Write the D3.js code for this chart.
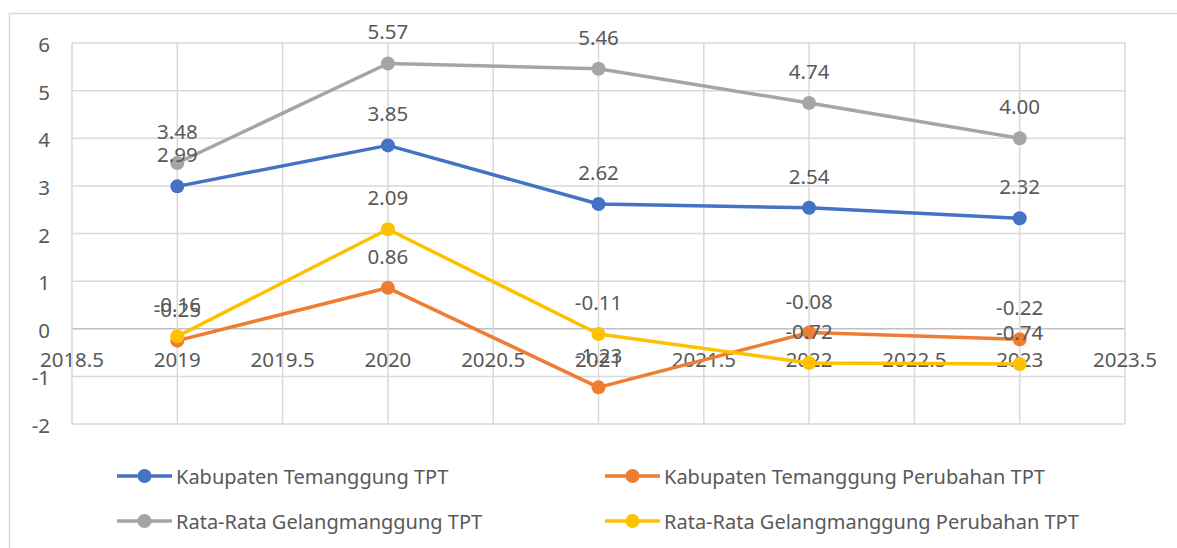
<!DOCTYPE html>
<html>
<head>
<meta charset="utf-8">
<script src="https://cdn.jsdelivr.net/npm/d3@7"></script>
<style>
  html, body { margin: 0; padding: 0; background: #fff; }
  svg { display: block; }
  text { font-family: "Noto Sans", "Open Sans", sans-serif; fill: #595959; }
</style>
</head>
<body>
<svg id="chart" width="1177" height="548"></svg>
<script>
const years = [2019, 2020, 2021, 2022, 2023];
const kabTPT = [2.99, 3.85, 2.62, 2.54, 2.32];
const kabPerubahan = [-0.25, 0.86, -1.23, -0.08, -0.22];
const gelTPT = [3.48, 5.57, 5.46, 4.74, 4.00];
const gelPerubahan = [-0.16, 2.09, -0.11, -0.72, -0.74];
const seriesNames = [
  "Kabupaten Temanggung TPT",
  "Kabupaten Temanggung Perubahan TPT",
  "Rata-Rata Gelangmanggung TPT",
  "Rata-Rata Gelangmanggung Perubahan TPT"
];
const xTicks = [2018.5, 2019, 2019.5, 2020, 2020.5, 2021, 2021.5, 2022, 2022.5, 2023, 2023.5];
const yTicks = [-2, -1, 0, 1, 2, 3, 4, 5, 6];
const colors = ["#4472C4", "#ED7D31", "#A5A5A5", "#FFC000"];

const seriesValues = [kabTPT, kabPerubahan, gelTPT, gelPerubahan];
const series = seriesNames.map((name, i) => ({
  name, color: colors[i],
  points: years.map((yr, j) => ({ x: yr, y: seriesValues[i][j] }))
}));

const svg = d3.select("#chart");
const x = d3.scaleLinear().domain([2018.5, 2023.5]).range([72, 1125]);
const y = d3.scaleLinear().domain([-2, 6]).range([424, 43]);

// outer chart border
svg.append("rect")
  .attr("x", 9.5).attr("y", 13.5)
  .attr("width", 1200).attr("height", 600)
  .attr("fill", "none").attr("stroke", "#D9D9D9").attr("stroke-width", 1.5);

// gridlines
const grid = svg.append("g");
grid.selectAll("line.h").data(yTicks).join("line")
  .attr("x1", x(2018.5)).attr("x2", x(2023.5))
  .attr("y1", d => y(d)).attr("y2", d => y(d))
  .attr("stroke", d => d === 0 ? "#BFBFBF" : "#D9D9D9")
  .attr("stroke-width", 1.5);
grid.selectAll("line.v").data(xTicks).join("line")
  .attr("x1", d => x(d)).attr("x2", d => x(d))
  .attr("y1", y(6)).attr("y2", y(-2))
  .attr("stroke", "#D9D9D9").attr("stroke-width", 1.5);

// y axis labels
svg.append("g").selectAll("text").data(yTicks).join("text")
  .attr("x", 50).attr("y", d => y(d) + 1)
  .attr("text-anchor", "end").attr("dominant-baseline", "central")
  .attr("font-size", 20.5)
  .text(d => d);

// x axis labels (crossing at zero)
svg.append("g").selectAll("text").data(xTicks).join("text")
  .attr("x", d => x(d)).attr("y", y(0) + 30)
  .attr("text-anchor", "middle").attr("dominant-baseline", "central")
  .attr("font-size", 20.5)
  .text(d => d);

// series
const line = d3.line().x(d => x(d.x)).y(d => y(d.y));
series.forEach(s => {
  const g = svg.append("g");
  g.append("path").datum(s.points)
    .attr("d", line).attr("fill", "none")
    .attr("stroke", s.color).attr("stroke-width", 3.5)
    .attr("stroke-linejoin", "round").attr("stroke-linecap", "round");
  g.selectAll("circle").data(s.points).join("circle")
    .attr("cx", d => x(d.x)).attr("cy", d => y(d.y)).attr("r", 7)
    .attr("fill", s.color);
});

// data labels
series.forEach(s => {
  svg.append("g").selectAll("text").data(s.points).join("text")
    .attr("x", d => x(d.x)).attr("y", d => y(d.y) - 32)
    .attr("text-anchor", "middle").attr("dominant-baseline", "central")
    .attr("font-size", 20.5)
    .text(d => d.y.toFixed(2));
});

// legend
const legendPos = [[117, 476], [605, 476], [117, 521], [605, 521]];
series.forEach((s, i) => {
  const [lx, ly] = legendPos[i];
  const g = svg.append("g").attr("transform", `translate(${lx},${ly})`);
  g.append("line").attr("x1", 0).attr("x2", 55).attr("y1", 0).attr("y2", 0)
    .attr("stroke", s.color).attr("stroke-width", 3.5);
  g.append("circle").attr("cx", 27.5).attr("cy", 0).attr("r", 7).attr("fill", s.color);
  g.append("text").attr("x", 59).attr("y", 0)
    .attr("dominant-baseline", "central").attr("font-size", 20)
    .text(s.name);
});
</script>
</body>
</html>
